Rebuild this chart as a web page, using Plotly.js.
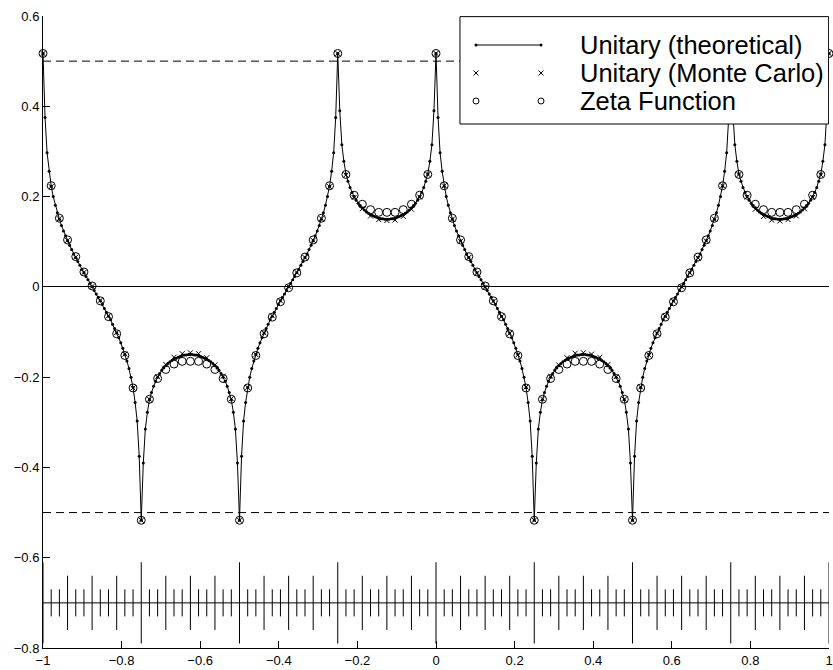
<!DOCTYPE html>
<html><head><meta charset="utf-8">
<script src="https://cdn.plot.ly/plotly-3.0.1.min.js"></script>
<style>html,body{margin:0;padding:0;background:#fff}#chart{width:833px;height:670px}</style>
</head><body><div id="chart"></div>
<script>
// ---- data ----
const xStart = -1;
const theoryStep = 1 / 192;   // theoretical curve sampling
const sampleStep = 1 / 48;    // Monte Carlo / zeta / barcode sampling

const theoryY = [
 0.517,0.375,0.297,0.256,0.223,0.200,0.181,0.164,0.150,0.136,0.124,0.113,
 0.102,0.092,0.083,0.073,0.065,0.056,0.048,0.039,0.031,0.023,0.016,0.008,
 0.000,-0.008,-0.016,-0.023,-0.031,-0.039,-0.048,-0.056,-0.065,-0.073,-0.083,-0.092,
 -0.102,-0.113,-0.124,-0.136,-0.150,-0.164,-0.181,-0.200,-0.223,-0.256,-0.297,-0.375,
 -0.517,-0.390,-0.315,-0.278,-0.250,-0.234,-0.220,-0.209,-0.200,-0.192,-0.185,-0.180,
 -0.175,-0.170,-0.166,-0.163,-0.160,-0.158,-0.156,-0.154,-0.152,-0.151,-0.151,-0.150,
 -0.150,-0.150,-0.151,-0.151,-0.152,-0.154,-0.156,-0.158,-0.160,-0.163,-0.166,-0.170,
 -0.175,-0.180,-0.185,-0.192,-0.200,-0.209,-0.220,-0.234,-0.250,-0.278,-0.315,-0.390,
 -0.517,-0.375,-0.297,-0.256,-0.223,-0.200,-0.181,-0.164,-0.150,-0.136,-0.124,-0.113,
 -0.102,-0.092,-0.083,-0.073,-0.065,-0.056,-0.048,-0.039,-0.031,-0.023,-0.016,-0.008,
 0.000,0.008,0.016,0.023,0.031,0.039,0.048,0.056,0.065,0.073,0.083,0.092,
 0.102,0.113,0.124,0.136,0.150,0.164,0.181,0.200,0.223,0.256,0.297,0.375,
 0.517,0.390,0.315,0.278,0.250,0.234,0.220,0.209,0.200,0.192,0.185,0.180,
 0.175,0.170,0.166,0.163,0.160,0.158,0.156,0.154,0.152,0.151,0.151,0.150,
 0.150,0.150,0.151,0.151,0.152,0.154,0.156,0.158,0.160,0.163,0.166,0.170,
 0.175,0.180,0.185,0.192,0.200,0.209,0.220,0.234,0.250,0.278,0.315,0.390,
 0.517,0.375,0.297,0.256,0.223,0.200,0.181,0.164,0.150,0.136,0.124,0.113,
 0.102,0.092,0.083,0.073,0.065,0.056,0.048,0.039,0.031,0.023,0.016,0.008,
 0.000,-0.008,-0.016,-0.023,-0.031,-0.039,-0.048,-0.056,-0.065,-0.073,-0.083,-0.092,
 -0.102,-0.113,-0.124,-0.136,-0.150,-0.164,-0.181,-0.200,-0.223,-0.256,-0.297,-0.375,
 -0.517,-0.390,-0.315,-0.278,-0.250,-0.234,-0.220,-0.209,-0.200,-0.192,-0.185,-0.180,
 -0.175,-0.170,-0.166,-0.163,-0.160,-0.158,-0.156,-0.154,-0.152,-0.151,-0.151,-0.150,
 -0.150,-0.150,-0.151,-0.151,-0.152,-0.154,-0.156,-0.158,-0.160,-0.163,-0.166,-0.170,
 -0.175,-0.180,-0.185,-0.192,-0.200,-0.209,-0.220,-0.234,-0.250,-0.278,-0.315,-0.390,
 -0.517,-0.375,-0.297,-0.256,-0.223,-0.200,-0.181,-0.164,-0.150,-0.136,-0.124,-0.113,
 -0.102,-0.092,-0.083,-0.073,-0.065,-0.056,-0.048,-0.039,-0.031,-0.023,-0.016,-0.008,
 0.000,0.008,0.016,0.023,0.031,0.039,0.048,0.056,0.065,0.073,0.083,0.092,
 0.102,0.113,0.124,0.136,0.150,0.164,0.181,0.200,0.223,0.256,0.297,0.375,
 0.517,0.390,0.315,0.278,0.250,0.234,0.220,0.209,0.200,0.192,0.185,0.180,
 0.175,0.170,0.166,0.163,0.160,0.158,0.156,0.154,0.152,0.151,0.151,0.150,
 0.150,0.150,0.151,0.151,0.152,0.154,0.156,0.158,0.160,0.163,0.166,0.170,
 0.175,0.180,0.185,0.192,0.200,0.209,0.220,0.234,0.250,0.278,0.315,0.390,
 0.517
];

const monteCarloY = [
 0.517,0.222,0.151,0.103,0.066,0.032,0.001,-0.030,-0.064,-0.101,-0.149,-0.224,
 -0.517,-0.249,-0.199,-0.172,-0.156,-0.148,-0.146,-0.148,-0.157,-0.173,-0.198,-0.248,
 -0.517,-0.223,-0.150,-0.102,-0.064,-0.031,0.001,0.032,0.065,0.103,0.151,0.222,
 0.517,0.248,0.198,0.173,0.157,0.149,0.147,0.148,0.156,0.172,0.199,0.249,
 0.517,0.224,0.150,0.101,0.065,0.030,-0.001,-0.032,-0.066,-0.103,-0.151,-0.222,
 -0.517,-0.248,-0.198,-0.173,-0.157,-0.147,-0.146,-0.149,-0.156,-0.172,-0.199,-0.249,
 -0.517,-0.222,-0.151,-0.103,-0.065,-0.032,0.000,0.031,0.064,0.102,0.150,0.224,
 0.517,0.249,0.199,0.172,0.156,0.148,0.146,0.149,0.157,0.173,0.198,0.248,
 0.517
];

const zetaY = [
 0.517,0.224,0.152,0.104,0.067,0.033,0.002,-0.031,-0.066,-0.104,-0.152,-0.224,
 -0.517,-0.249,-0.203,-0.183,-0.171,-0.165,-0.165,-0.165,-0.171,-0.183,-0.203,-0.249,
 -0.517,-0.224,-0.152,-0.104,-0.067,-0.033,-0.002,0.031,0.066,0.104,0.152,0.224,
 0.517,0.249,0.203,0.183,0.171,0.165,0.165,0.165,0.171,0.183,0.203,0.249,
 0.517,0.224,0.152,0.104,0.067,0.033,0.002,-0.031,-0.066,-0.104,-0.152,-0.224,
 -0.517,-0.249,-0.203,-0.183,-0.171,-0.165,-0.165,-0.165,-0.171,-0.183,-0.203,-0.249,
 -0.517,-0.224,-0.152,-0.104,-0.067,-0.033,-0.002,0.031,0.066,0.104,0.152,0.224,
 0.517,0.249,0.203,0.183,0.171,0.165,0.165,0.165,0.171,0.183,0.203,0.249,
 0.517
];

const barcodeLevel = -0.7;
const barcodeHalf = [
 0.09,0.03,0.03,0.06,0.03,0.03,0.06,0.03,0.03,0.06,0.03,0.03,
 0.09,0.03,0.03,0.06,0.03,0.03,0.06,0.03,0.03,0.06,0.03,0.03,
 0.09,0.03,0.03,0.06,0.03,0.03,0.06,0.03,0.03,0.06,0.03,0.03,
 0.09,0.03,0.03,0.06,0.03,0.03,0.06,0.03,0.03,0.06,0.03,0.03,
 0.09,0.03,0.03,0.06,0.03,0.03,0.06,0.03,0.03,0.06,0.03,0.03,
 0.09,0.03,0.03,0.06,0.03,0.03,0.06,0.03,0.03,0.06,0.03,0.03,
 0.09,0.03,0.03,0.06,0.03,0.03,0.06,0.03,0.03,0.06,0.03,0.03,
 0.09,0.03,0.03,0.06,0.03,0.03,0.06,0.03,0.03,0.06,0.03,0.03,
 0.09
];

const dashedLevels = [0.5, -0.5];
const xSpan = [-1, 1];
const xTicks = [-1, -0.8, -0.6, -0.4, -0.2, 0, 0.2, 0.4, 0.6, 0.8, 1];
const yTicks = [-0.8, -0.6, -0.4, -0.2, 0, 0.2, 0.4, 0.6];
const legendLabels = ['Unitary (theoretical)', 'Unitary (Monte Carlo)', 'Zeta Function'];

// ---- legend geometry (fractions of the plot area) ----
const LEG = {x0: 0.5305, x1: 0.9995, y0: 0.8291, y1: 0.999,
             gx: [0.5509, 0.6336], tx: 0.6807, rows: [0.9541, 0.9098, 0.8655]};

const BLACK = '#000';
const traces = [];

dashedLevels.forEach(lv => traces.push({
  x: xSpan, y: [lv, lv], mode: 'lines', hoverinfo: 'skip', showlegend: false,
  line: {color: BLACK, width: 1, dash: '8px,5px'}
}));

traces.push({
  x0: xStart, dx: sampleStep, y: barcodeHalf.map(() => barcodeLevel),
  mode: 'lines', showlegend: false, hoverinfo: 'skip',
  line: {color: BLACK, width: 1},
  error_y: {type: 'data', array: barcodeHalf, symmetric: true, width: 0, thickness: 1, color: BLACK}
});

traces.push({
  name: legendLabels[0], x0: xStart, dx: theoryStep, y: theoryY,
  mode: 'lines+markers', cliponaxis: false, showlegend: false,
  line: {color: BLACK, width: 1}, marker: {size: 3, color: BLACK}
});
traces.push({
  name: legendLabels[1], x0: xStart, dx: sampleStep, y: monteCarloY,
  mode: 'markers', cliponaxis: false, showlegend: false,
  marker: {symbol: 'x-thin-open', size: 5, color: BLACK, line: {width: 1, color: BLACK}}
});
traces.push({
  name: legendLabels[2], x0: xStart, dx: sampleStep, y: zetaY,
  mode: 'markers', cliponaxis: false, showlegend: false,
  marker: {symbol: 'circle-open', size: 8, color: BLACK, line: {width: 1, color: BLACK}}
});

// legend drawn on an overlaid, hidden axis pair
traces.push({
  x: [LEG.x0, LEG.x1, LEG.x1, LEG.x0, LEG.x0], y: [LEG.y0, LEG.y0, LEG.y1, LEG.y1, LEG.y0],
  xaxis: 'x2', yaxis: 'y2', mode: 'lines', fill: 'toself', fillcolor: '#fff',
  line: {color: BLACK, width: 1}, showlegend: false, hoverinfo: 'skip'
});
traces.push({
  x: LEG.gx, y: [LEG.rows[0], LEG.rows[0]], xaxis: 'x2', yaxis: 'y2',
  mode: 'lines+markers', line: {color: BLACK, width: 1}, marker: {size: 3, color: BLACK},
  showlegend: false, hoverinfo: 'skip'
});
traces.push({
  x: LEG.gx, y: [LEG.rows[1], LEG.rows[1]], xaxis: 'x2', yaxis: 'y2',
  mode: 'markers', marker: {symbol: 'x-thin-open', size: 5, color: BLACK, line: {width: 1, color: BLACK}},
  showlegend: false, hoverinfo: 'skip'
});
traces.push({
  x: LEG.gx, y: [LEG.rows[2], LEG.rows[2]], xaxis: 'x2', yaxis: 'y2',
  mode: 'markers', marker: {symbol: 'circle-open', size: 6, color: BLACK, line: {width: 1, color: BLACK}},
  showlegend: false, hoverinfo: 'skip'
});

const tickFont = {family: 'Liberation Sans, Arial, Helvetica, sans-serif', size: 13, color: BLACK};
const layout = {
  width: 833, height: 670,
  margin: {l: 43, r: 4, t: 16, b: 22},
  paper_bgcolor: '#fff', plot_bgcolor: '#fff',
  showlegend: false,
  xaxis: {range: [-1, 1], tickmode: 'array', tickvals: xTicks, ticks: 'inside', ticklen: 7, tickwidth: 1,
          tickcolor: BLACK, showline: true, linecolor: BLACK, linewidth: 1, mirror: false,
          showgrid: false, zeroline: false, tickfont: tickFont, ticklabeloverflow: 'allow'},
  yaxis: {range: [-0.8, 0.6], tickmode: 'array', tickvals: yTicks, ticks: 'inside', ticklen: 7, tickwidth: 1,
          tickcolor: BLACK, showline: true, linecolor: BLACK, linewidth: 1, mirror: false,
          showgrid: false, zeroline: true, zerolinecolor: BLACK, zerolinewidth: 1, tickfont: tickFont,
          ticklabeloverflow: 'allow'},
  xaxis2: {overlaying: 'x', anchor: 'y2', range: [0, 1], visible: false},
  yaxis2: {overlaying: 'y', anchor: 'x2', range: [0, 1], visible: false},
  annotations: legendLabels.map((t, i) => ({
    text: t, xref: 'paper', yref: 'paper', x: LEG.tx, y: LEG.rows[i],
    xanchor: 'left', yanchor: 'middle', showarrow: false,
    font: {family: 'Liberation Sans, Arial, Helvetica, sans-serif', size: 25.5, color: BLACK}
  }))
};

Plotly.newPlot('chart', traces, layout, {staticPlot: true, displayModeBar: false});
</script>
</body></html>
